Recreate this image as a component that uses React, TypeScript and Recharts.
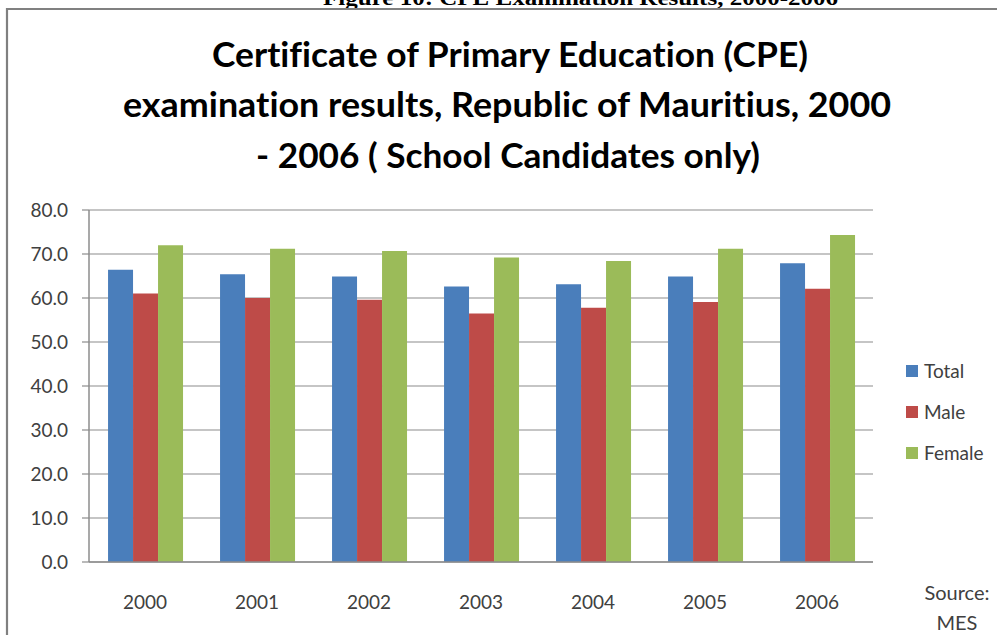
import React from 'react';
import { BarChart, Bar, XAxis, YAxis, CartesianGrid, Legend } from 'recharts';

const years = ['2000', '2001', '2002', '2003', '2004', '2005', '2006'];
const totalValues = [66.4, 65.4, 64.9, 62.6, 63.1, 64.9, 67.9];
const maleValues = [61.0, 60.0, 59.6, 56.5, 57.8, 59.1, 62.1];
const femaleValues = [72.0, 71.2, 70.7, 69.2, 68.4, 71.2, 74.3];
const yTicks = [0, 10, 20, 30, 40, 50, 60, 70, 80];
const seriesNames = ['Total', 'Male', 'Female'];
const seriesColors = ['#4A7EBB', '#BE4B48', '#9BBB59'];
const titleLines = [
  'Certificate of Primary Education (CPE)',
  'examination results, Republic of Mauritius, 2000',
  '- 2006 ( School Candidates only)',
];
const captionText = 'Figure 10: CPE Examination Results, 2000-2006';
const sourceLines = ['Source:', 'MES'];

const data = years.map((y, i) => ({
  year: y,
  [seriesNames[0]]: totalValues[i],
  [seriesNames[1]]: maleValues[i],
  [seriesNames[2]]: femaleValues[i],
}));
const boundaryTicks = [...years.map((_, i) => i), years.length];

const FONT = 'Lato, "Open Sans", sans-serif';
const GRAY = '#8C8C8C';
const TXT = '#404040';

const renderLegend = (props: any) => {
  const items = [...(props.payload || [])].sort(
    (a: any, b: any) => seriesNames.indexOf(a.value) - seriesNames.indexOf(b.value)
  );
  return (
    <div style={{ display: 'flex', flexDirection: 'column' }}>
      {items.map((e: any) => (
        <div key={e.value} style={{ display: 'flex', alignItems: 'center', height: 41 }}>
          <span style={{ display: 'inline-block', width: 12, height: 12, background: e.color, marginRight: 6 }} />
          <span style={{ fontFamily: FONT, fontSize: 19, color: TXT }}>{e.value}</span>
        </div>
      ))}
    </div>
  );
};

const titleGeom = [
  { x: 212, y: 67, w: 596 },
  { x: 123, y: 117, w: 768 },
  { x: 256, y: 168, w: 504 },
];

export default function App() {
  return (
    <div style={{ position: 'absolute', left: 0, top: 0, width: 997, height: 635, background: '#fff', overflow: 'hidden' }}>
      <svg width={997} height={635} style={{ position: 'absolute', left: 0, top: 0 }}>
        <text x={323} y={5} textLength={515} lengthAdjust="spacingAndGlyphs"
          style={{ fontFamily: '"Liberation Serif", "Times New Roman", serif', fontWeight: 700, fontSize: 20 }} fill="#000">
          {captionText}
        </text>
        <path d="M7,640 L7,9 L1000,9" fill="none" stroke="#808080" strokeWidth={2.2} />
        {titleLines.map((t, i) => (
          <text key={i} x={titleGeom[i].x} y={titleGeom[i].y} textLength={titleGeom[i].w} lengthAdjust="spacingAndGlyphs"
            style={{ fontFamily: FONT, fontWeight: 700, fontSize: 34, fontVariantLigatures: 'none' }} fill="#000">
            {t}
          </text>
        ))}
        {sourceLines.map((t, i) => (
          <text key={t} x={957} y={600 + i * 30} textAnchor="middle" style={{ fontFamily: FONT, fontSize: 20 }} fill={TXT}>
            {t}
          </text>
        ))}
      </svg>
      <div style={{ position: 'absolute', left: 0, top: 0 }}>
        <BarChart width={997} height={635} data={data}
          margin={{ top: 210, right: 124, left: 0, bottom: 0 }}
          barCategoryGap="17%" barGap={0}>
          <CartesianGrid vertical={false} stroke={GRAY} strokeWidth={1.2} />
          <XAxis xAxisId="bounds" type="number" domain={[0, years.length]} ticks={boundaryTicks}
            tick={false} axisLine={false} tickLine={{ stroke: GRAY, strokeWidth: 1.2 }} tickSize={9} height={0} allowDecimals={false} />
          <XAxis dataKey="year" height={73} tickLine={false} tickSize={6} tickMargin={28}
            axisLine={{ stroke: GRAY, strokeWidth: 1.5 }}
            tick={{ fill: TXT, fontSize: 19, fontFamily: FONT }} interval={0} />
          <YAxis width={89} domain={[0, 80]} ticks={yTicks} tickFormatter={(v: number) => v.toFixed(1)}
            tickSize={7} tickMargin={14} axisLine={{ stroke: GRAY, strokeWidth: 1.5 }}
            tickLine={{ stroke: GRAY, strokeWidth: 1.2 }}
            tick={{ fill: TXT, fontSize: 19, fontFamily: FONT }} />
          <Legend layout="vertical" align="center" verticalAlign="middle"
            wrapperStyle={{ left: 906, top: 350, width: 90 }} content={renderLegend} />
          {seriesNames.map((s, i) => (
            <Bar key={s} dataKey={s} fill={seriesColors[i]} isAnimationActive={false} />
          ))}
        </BarChart>
      </div>
    </div>
  );
}
